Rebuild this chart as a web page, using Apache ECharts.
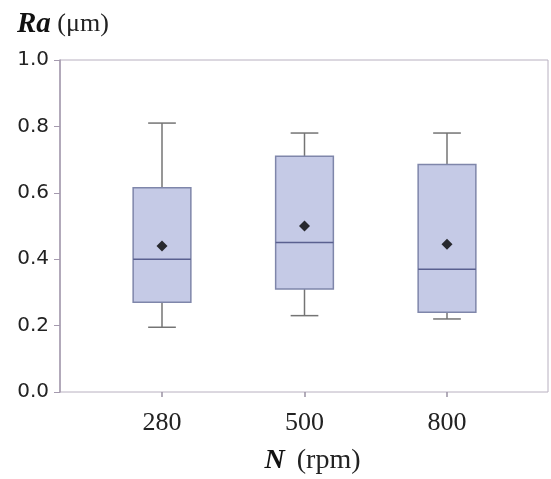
<!DOCTYPE html>
<html>
<head>
<meta charset="utf-8">
<script src="https://cdn.jsdelivr.net/npm/echarts@6/dist/echarts.min.js"></script>
<style>html,body{margin:0;padding:0;background:#fff;}#chart{width:551px;height:479px;}</style>
</head>
<body>
<div id="chart"></div>
<script>
const categories = ['280', '500', '800'];
const whiskerLow = [0.195, 0.23, 0.22];
const q1 = [0.27, 0.31, 0.24];
const median = [0.40, 0.45, 0.37];
const q3 = [0.615, 0.71, 0.685];
const whiskerHigh = [0.81, 0.78, 0.78];
const mean = [0.44, 0.50, 0.445];
const yTicks = [0, 0.2, 0.4, 0.6, 0.8, 1.0];

const boxData = categories.map((c, i) => [i, whiskerLow[i], q1[i], median[i], q3[i], whiskerHigh[i]]);
const meanData = categories.map((c, i) => [i, mean[i]]);

const chart = echarts.init(document.getElementById('chart'));
chart.setOption({
  animation: false,
  title: {
    left: 12, top: 5,
    text: '{a|Ra}{b| (μm)}',
    textStyle: {
      fontWeight: 'normal',
      rich: {
        a: {fontFamily: 'Liberation Serif', fontWeight: 'bold', fontStyle: 'italic', fontSize: 29, color: '#111'},
        b: {fontFamily: 'Liberation Serif', fontWeight: 'normal', fontSize: 26, color: '#222'}
      }
    }
  },
  grid: [
    {left: 60, top: 60, width: 488, height: 332, show: true, borderColor: '#b8b0c0', borderWidth: 1,
      backgroundColor: 'transparent', containLabel: false, outerBoundsMode: 'none'},
    {left: 90.75, top: 60, width: 427.5, height: 332, containLabel: false, outerBoundsMode: 'none'}
  ],
  xAxis: [
    {gridIndex: 0, type: 'value', min: 0, max: 1, show: false},
    {
      gridIndex: 1, type: 'category', data: categories, boundaryGap: true,
      axisLine: {show: false},
      axisTick: {show: true, alignWithLabel: true, length: 5, lineStyle: {color: '#9a92a4', width: 1.5}},
      axisLabel: {fontFamily: 'Liberation Serif', fontSize: 26, color: '#222', margin: 18},
      name: '{n|N}{r|(rpm)}',
      nameLocation: 'middle', nameGap: 55,
      nameTextStyle: {
        padding: [0, 0, 0, 16],
        rich: {
          n: {fontFamily: 'Liberation Serif', fontWeight: 'bold', fontStyle: 'italic', fontSize: 28, color: '#111', padding: [0, 12, 0, 0]},
          r: {fontFamily: 'Liberation Serif', fontWeight: 'normal', fontSize: 28, color: '#222'}
        }
      }
    }
  ],
  yAxis: [
    {
      gridIndex: 0, type: 'value', min: 0, max: 1, interval: 0.2,
      axisLine: {show: true, lineStyle: {color: '#a49aae', width: 1.5}},
      axisTick: {show: true, length: 6, lineStyle: {color: '#a49aae'}},
      splitLine: {show: false},
      axisLabel: {fontFamily: 'DejaVu Sans', fontSize: 20, color: '#222', margin: 11,
        formatter: v => v.toFixed(1)}
    },
    {gridIndex: 1, type: 'value', min: 0, max: 1, show: false}
  ],
  series: [
    {
      type: 'custom',
      xAxisIndex: 1, yAxisIndex: 1,
      data: boxData,
      renderItem: function (params, api) {
        const i = api.value(0);
        const band = api.size([1, 0])[0];
        const bw = band * 0.405;
        const cw = bw * 0.48;
        const pLow = api.coord([i, api.value(1)]);
        const pQ1 = api.coord([i, api.value(2)]);
        const pMed = api.coord([i, api.value(3)]);
        const pQ3 = api.coord([i, api.value(4)]);
        const pHigh = api.coord([i, api.value(5)]);
        const cx = pLow[0];
        const wStyle = {stroke: '#747474', lineWidth: 1.5};
        return {
          type: 'group',
          children: [
            {type: 'line', shape: {x1: cx, y1: pHigh[1], x2: cx, y2: pQ3[1]}, style: wStyle},
            {type: 'line', shape: {x1: cx, y1: pQ1[1], x2: cx, y2: pLow[1]}, style: wStyle},
            {type: 'line', shape: {x1: cx - cw / 2, y1: pHigh[1], x2: cx + cw / 2, y2: pHigh[1]}, style: wStyle},
            {type: 'line', shape: {x1: cx - cw / 2, y1: pLow[1], x2: cx + cw / 2, y2: pLow[1]}, style: wStyle},
            {type: 'rect', shape: {x: cx - bw / 2, y: pQ3[1], width: bw, height: pQ1[1] - pQ3[1]},
              style: {fill: '#c5cae6', stroke: '#7f86aa', lineWidth: 1.5}},
            {type: 'line', shape: {x1: cx - bw / 2, y1: pMed[1], x2: cx + bw / 2, y2: pMed[1]},
              style: {stroke: '#5a6090', lineWidth: 1.5}}
          ]
        };
      }
    },
    {
      type: 'scatter',
      xAxisIndex: 1, yAxisIndex: 1,
      data: meanData,
      symbol: 'diamond', symbolSize: [11, 11],
      itemStyle: {color: '#000'},
      z: 5
    }
  ]
});
</script>
</body>
</html>
